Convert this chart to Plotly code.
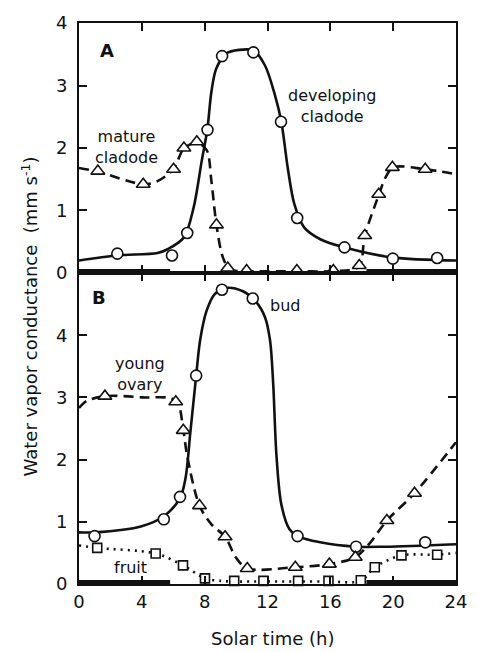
import plotly.graph_objects as go
from plotly.subplots import make_subplots

# ---------------- Panel A ----------------
dev_x = [2.44, 5.92, 6.89, 8.18, 9.11, 11.1, 12.86, 13.89, 16.9, 19.98, 22.8]
dev_y = [0.31, 0.28, 0.64, 2.29, 3.47, 3.53, 2.42, 0.88, 0.41, 0.23, 0.24]
dev_curve_x = [0, 2.4, 5.0, 5.64, 6.68, 7.30, 7.81, 8.17, 8.43, 8.74, 9.36, 10.19, 11.12,
               11.84, 12.47, 12.88, 13.29, 13.71, 14.33, 15.36, 16.87, 19.91, 24]
dev_curve_y = [0.2, 0.28, 0.32, 0.38, 0.57, 1.05, 1.79, 2.3, 2.9, 3.27, 3.51, 3.57, 3.56,
               3.32, 2.85, 2.42, 1.68, 1.1, 0.73, 0.54, 0.41, 0.25, 0.2]

mat_x = [1.2, 4.09, 6.02, 6.68, 7.5, 8.75, 9.47, 10.67, 13.87, 16.19, 17.84, 18.19, 19.08, 19.95, 22.04]
mat_y = [1.63, 1.42, 1.66, 2.0, 2.1, 0.77, 0.08, 0.04, 0.04, 0.04, 0.12, 0.6, 1.26, 1.69, 1.66]
mat_curve_x = [0, 1.2, 4.1, 5.0, 6.0, 6.7, 7.5, 8.12, 8.43, 8.75, 9.16, 9.6, 10.7, 14, 16.2,
               17.8, 18.2, 19.1, 19.5, 20.0, 22.0, 24]
mat_curve_y = [1.68, 1.62, 1.42, 1.47, 1.66, 2.0, 2.08, 1.97, 1.47, 0.77, 0.25, 0.06, 0.03,
               0.03, 0.03, 0.1, 0.6, 1.26, 1.52, 1.69, 1.66, 1.58]

# ---------------- Panel B ----------------
bud_x = [0.99, 5.4, 6.43, 7.46, 9.1, 11.06, 13.91, 17.64, 22.04]
bud_y = [0.77, 1.04, 1.40, 3.35, 4.73, 4.59, 0.77, 0.60, 0.67]
bud_curve_x = [0, 0.99, 3.99, 5.4, 6.43, 6.78, 7.09, 7.46, 7.71, 8.12, 8.64, 9.36, 10.4, 11.22,
               11.84, 12.16, 12.36, 12.57, 12.88, 13.4, 13.91, 15.36, 17.6, 19.5, 24]
bud_curve_y = [0.83, 0.83, 0.93, 1.09, 1.38, 1.70, 2.44, 3.35, 3.92, 4.39, 4.66, 4.76, 4.71,
               4.55, 4.29, 3.92, 3.23, 2.07, 1.28, 0.88, 0.77, 0.67, 0.60, 0.60, 0.64]

ova_x = [1.65, 6.16, 6.64, 7.67, 9.3, 10.71, 13.77, 15.94, 17.59, 19.6, 21.36]
ova_y = [3.02, 2.93, 2.47, 1.26, 0.76, 0.25, 0.27, 0.32, 0.43, 1.02, 1.46]
ova_curve_x = [0, 0.47, 1.65, 4.0, 6.16, 6.64, 6.88, 7.67, 8.43, 9.3, 9.98, 10.71, 13.77,
               15.94, 17.59, 18.46, 19.6, 21.36, 24]
ova_curve_y = [2.83, 2.94, 3.02, 3.0, 2.95, 2.47, 2.07, 1.26, 0.96, 0.76, 0.43, 0.25, 0.27,
               0.32, 0.43, 0.64, 1.02, 1.46, 2.28]

fru_x = [1.16, 4.88, 6.62, 8.02, 9.88, 11.74, 13.95, 15.88, 17.94, 18.83, 20.53, 22.8]
fru_y = [0.58, 0.49, 0.30, 0.09, 0.05, 0.05, 0.05, 0.05, 0.06, 0.27, 0.46, 0.47]
fru_curve_x = [0, 1.16, 4.88, 6.62, 8.02, 9.0, 9.88, 11.74, 13.95, 15.88, 17.94, 18.83,
               20.53, 22.8, 24]
fru_curve_y = [0.62, 0.58, 0.49, 0.30, 0.09, 0.05, 0.04, 0.04, 0.04, 0.04, 0.05, 0.27,
               0.46, 0.47, 0.5]

# dark periods (thick bar on the time axis)
dark_start = [0, 18.3]
dark_end = [5.8, 24]

x_ticks = [0, 4, 8, 12, 16, 20, 24]
yA_ticks = [0, 1, 2, 3, 4]
yB_ticks = [0, 1, 2, 3, 4]

FONT = "DejaVu Sans"
BLACK = "#111111"

fig = make_subplots(rows=2, cols=1, row_heights=[254, 316], vertical_spacing=0)


def curve(x, y, dash, row):
    fig.add_trace(go.Scatter(x=x, y=y, mode="lines",
                             line=dict(color=BLACK, width=2.6, dash=dash, shape="spline",
                                       smoothing=0.9),
                             showlegend=False, hoverinfo="skip"), row=row, col=1)


def marks(x, y, symbol, size, row):
    fig.add_trace(go.Scatter(x=x, y=y, mode="markers", cliponaxis=False,
                             marker=dict(symbol=symbol, size=size, color="white",
                                         line=dict(color=BLACK, width=1.6)),
                             showlegend=False), row=row, col=1)


for row in (1, 2):
    for s, e in zip(dark_start, dark_end):
        fig.add_trace(go.Scatter(x=[s, e], y=[0, 0], mode="lines",
                                 line=dict(color=BLACK, width=8),
                                 showlegend=False, hoverinfo="skip"), row=row, col=1)

curve(dev_curve_x, dev_curve_y, "solid", 1)
curve(mat_curve_x, mat_curve_y, "10px,6px", 1)
marks(dev_x, dev_y, "circle", 11, 1)
marks(mat_x, mat_y, "triangle-up", 12, 1)

curve(bud_curve_x, bud_curve_y, "solid", 2)
curve(ova_curve_x, ova_curve_y, "10px,6px", 2)
curve(fru_curve_x, fru_curve_y, "2px,5px", 2)
marks(bud_x, bud_y, "circle", 11, 2)
marks(ova_x, ova_y, "triangle-up", 12, 2)
marks(fru_x, fru_y, "square", 9, 2)

axis_common = dict(showline=True, linecolor=BLACK, linewidth=2, mirror="ticks",
                   ticks="inside", ticklen=8, tickwidth=2, tickcolor=BLACK,
                   showgrid=False, zeroline=False,
                   tickfont=dict(family=FONT, size=18, color=BLACK))

fig.update_xaxes(range=[0, 24], tickvals=x_ticks, **axis_common)
fig.update_xaxes(showticklabels=False, row=1, col=1)
fig.update_yaxes(**axis_common, ticklabelstandoff=6)
fig.update_yaxes(range=[0, 4], tickvals=yA_ticks, row=1, col=1)
fig.update_yaxes(range=[0, 5], tickvals=yB_ticks, row=2, col=1)

txt = dict(family=FONT, size=16, color=BLACK)
bold = dict(family=FONT, size=18, color=BLACK)
ann = [
    dict(text="<b>A</b>", x=1.8, y=3.56, xref="x", yref="y", font=bold),
    dict(text="developing<br>cladode", x=16.1, y=2.68, xref="x", yref="y", font=txt),
    dict(text="mature<br>cladode", x=3.05, y=2.02, xref="x", yref="y", font=txt),
    dict(text="<b>B</b>", x=1.3, y=4.61, xref="x2", yref="y2", font=bold),
    dict(text="bud", x=13.1, y=4.47, xref="x2", yref="y2", font=txt),
    dict(text="young<br>ovary", x=3.9, y=3.37, xref="x2", yref="y2", font=txt),
    dict(text="fruit", x=3.3, y=0.27, xref="x2", yref="y2", font=txt),
]
for a in ann:
    fig.add_annotation(**a, showarrow=False, xanchor="center", yanchor="middle")

fig.add_annotation(text="Water vapor conductance  (mm s<sup>-1</sup>)", xref="paper", yref="paper",
                   x=-0.13, y=0.477, textangle=-90, showarrow=False,
                   font=dict(family=FONT, size=18, color=BLACK),
                   xanchor="center", yanchor="middle")
fig.add_annotation(text="Solar time (h)", xref="paper", yref="paper",
                   x=0.512, y=-0.098, showarrow=False,
                   font=dict(family=FONT, size=18, color=BLACK),
                   xanchor="center", yanchor="middle")

fig.update_layout(width=479, height=652, margin=dict(l=79, r=13, t=14, b=68),
                  plot_bgcolor="white", paper_bgcolor="white")

fig.write_html("out.html")
